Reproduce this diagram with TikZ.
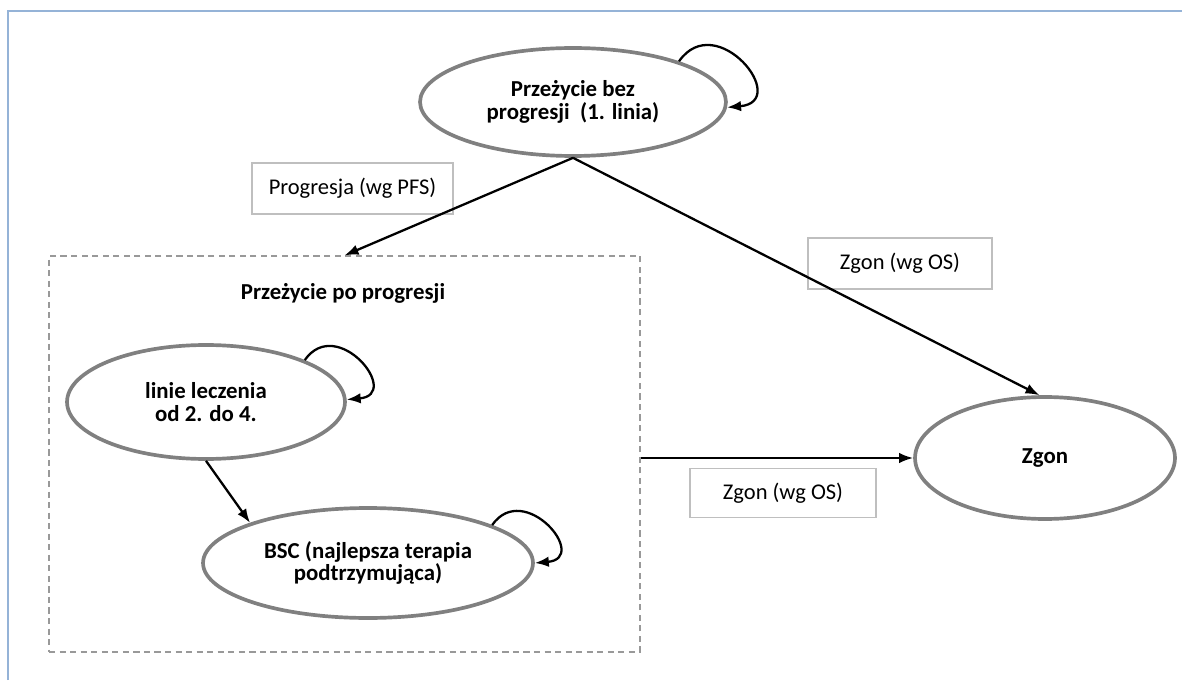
\documentclass[tikz,border=0pt]{standalone}
\usepackage{fontspec}
\setmainfont{Carlito}
\usetikzlibrary{shapes.geometric,arrows.meta}

\definecolor{ramkaniebieska}{RGB}{149,179,215}
\definecolor{szary}{RGB}{128,128,128}

\begin{document}
\begin{tikzpicture}[x=0.02cm,y=0.02cm,
  stan/.style={ellipse,draw=szary,line width=2.1pt,inner sep=0pt,align=center,
    font=\fontsize{13}{13}\selectfont\bfseries},
  opis/.style={draw=black!25,line width=0.9pt,inner sep=0pt,
    font=\fontsize{12.8}{13}\selectfont},
  strz/.style={line width=1.3pt,-{Latex[length=2.8mm,width=2.1mm]}}]
\useasboundingbox (0,0) rectangle (1182,680);
\draw[ramkaniebieska,line width=1.2pt] (8,0) -- (8,669) -- (1182,669);
% stany
\node[stan,minimum width=6.12cm,minimum height=2.16cm] (pfs) at (573,578) {Przeżycie bez\\progresji~ (1. linia)};
\node[draw=black!40,dash pattern=on 3.5pt off 2.5pt,line width=0.7pt,
  minimum width=11.82cm,minimum height=7.92cm,inner sep=0pt] (pp) at (344.5,226) {};
\node[font=\fontsize{13}{13}\selectfont\bfseries] (pptyt) at (343,387) {Przeżycie po progresji};
\node[stan,minimum width=5.56cm,minimum height=2.28cm] (linie) at (206,278) {linie leczenia\\od 2. do 4.};
\node[stan,minimum width=6.6cm,minimum height=2.2cm] (bsc) at (368,117) {BSC (najlepsza terapia\\podtrzymująca)};
\node[stan,minimum width=5.2cm,minimum height=2.44cm] (zgon) at (1045,222) {Zgon};
% opisy przejsc
\node[opis,minimum width=4.02cm,minimum height=1.02cm] (lprog) at (352.5,491.5) {Progresja (wg PFS)};
\node[opis,minimum width=3.68cm,minimum height=1.02cm] (lzgon1) at (900,416.5) {Zgon (wg OS)};
\node[opis,minimum width=3.72cm,minimum height=0.98cm] (lzgon2) at (783,187) {Zgon (wg OS)};
% przejscia
\draw[strz] (pfs.south) -- (zgon.95);
\draw[strz] (pfs.south) -- (pp.north);
\draw[strz] (pp.east |- zgon.west) -- (zgon.west);
\draw[strz] (linie.south) -- (bsc.north west);
\draw[strz] (pfs.21) to[out=55,in=5,looseness=2.5] (pfs.-2);
\draw[strz] (linie.23) to[out=55,in=5,looseness=2.5] (linie.1);
\draw[strz] (bsc.17) to[out=55,in=5,looseness=2.5] (bsc.0);
\end{tikzpicture}
\end{document}
